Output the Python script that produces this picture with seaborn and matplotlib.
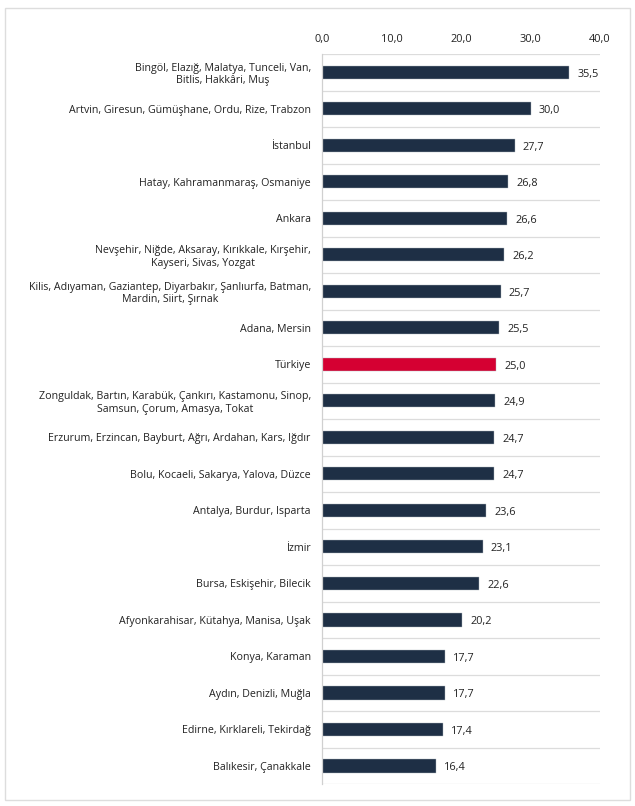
import pandas as pd
import matplotlib.pyplot as plt
import seaborn as sns
from matplotlib.patches import Rectangle

regions = [
    "Bingöl, Elazığ, Malatya, Tunceli, Van,\nBitlis, Hakkâri, Muş",
    "Artvin, Giresun, Gümüşhane, Ordu, Rize, Trabzon",
    "İstanbul",
    "Hatay, Kahramanmaraş, Osmaniye",
    "Ankara",
    "Nevşehir, Niğde, Aksaray, Kırıkkale, Kırşehir,\nKayseri, Sivas, Yozgat",
    "Kilis, Adıyaman, Gaziantep, Diyarbakır, Şanlıurfa, Batman,\nMardin, Siirt, Şırnak",
    "Adana, Mersin",
    "Türkiye",
    "Zonguldak, Bartın, Karabük, Çankırı, Kastamonu, Sinop,\nSamsun, Çorum, Amasya, Tokat",
    "Erzurum, Erzincan, Bayburt, Ağrı, Ardahan, Kars, Iğdır",
    "Bolu, Kocaeli, Sakarya, Yalova, Düzce",
    "Antalya, Burdur, Isparta",
    "İzmir",
    "Bursa, Eskişehir, Bilecik",
    "Afyonkarahisar, Kütahya, Manisa, Uşak",
    "Konya, Karaman",
    "Aydın, Denizli, Muğla",
    "Edirne, Kırklareli, Tekirdağ",
    "Balıkesir, Çanakkale",
]
values = [35.5, 30.0, 27.7, 26.8, 26.6, 26.2, 25.7, 25.5, 25.0, 24.9,
          24.7, 24.7, 23.6, 23.1, 22.6, 20.2, 17.7, 17.7, 17.4, 16.4]
xticks = [0, 10, 20, 30, 40]

navy = "#1e2f45"
red = "#d50032"

df = pd.DataFrame({"region": regions, "value": values})
df["kind"] = ["tr" if r == "Türkiye" else "other" for r in regions]

sns.set_style("white")
plt.rcParams["font.family"] = ["Open Sans", "DejaVu Sans"]

fig = plt.figure(figsize=(6.35, 8.06), dpi=100)
ax = fig.add_axes([0.507, 0.027, 0.438, 0.906])

sns.barplot(data=df, y="region", x="value", hue="kind",
            palette={"tr": red, "other": navy}, orient="h",
            width=0.36, legend=False, ax=ax, edgecolor="#b0b8c0", linewidth=0.3,
            saturation=1)

# separators between rows
for i in range(len(regions) + 1):
    ax.axhline(i - 0.5, color="#dcdcdc", lw=0.9, zorder=0)

# value labels
for i, v in enumerate(values):
    ax.text(v + 1.2, i + 0.05, f"{v:.1f}".replace(".", ","), va="center", ha="left",
            fontsize=7.8, color="#222222")

ax.set_xlim(0, 40)
ax.set_ylim(len(regions) - 0.5, -0.5)
ax.set_xticks(xticks)
ax.set_xticklabels([f"{t:.1f}".replace(".", ",") for t in xticks])
ax.xaxis.tick_top()
ax.tick_params(axis="x", length=0, pad=6.5, labelsize=7.9, colors="#222222")
ax.tick_params(axis="y", length=0, pad=8, labelsize=7.7, colors="#222222")
for lab in ax.get_yticklabels():
    lab.set_horizontalalignment("right")
    lab.set_multialignment("center")
ax.set_xlabel("")
ax.set_ylabel("")
for s in ["top", "right", "bottom"]:
    ax.spines[s].set_visible(False)
ax.spines["left"].set_color("#d0d0d0")
ax.spines["left"].set_linewidth(0.9)

# outer frame
fig.patches.append(Rectangle((0.008, 0.007), 0.984, 0.983, transform=fig.transFigure,
                             fill=False, edgecolor="#dddddd", lw=1.0))

fig.savefig("out.png", dpi=100)
